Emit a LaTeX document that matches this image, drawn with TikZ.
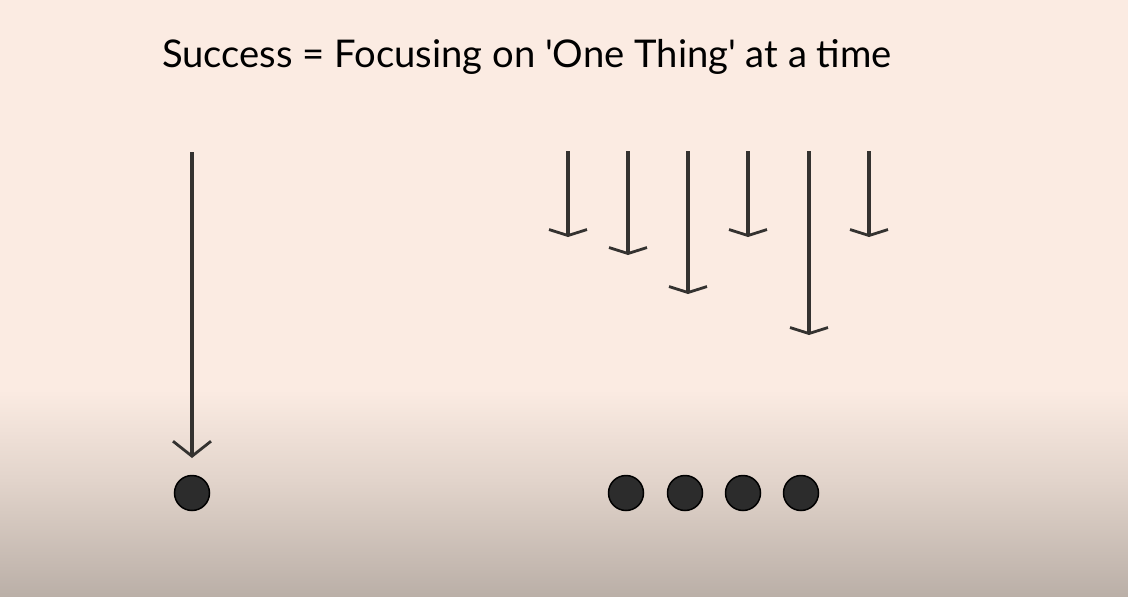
\documentclass[tikz,border=0pt]{standalone}
\usepackage{fontspec}
\setmainfont{Lato}
\usetikzlibrary{arrows.meta}
\definecolor{bgtop}{RGB}{251,235,226}
\definecolor{bgmid}{RGB}{226,212,203}
\definecolor{bgbot}{RGB}{186,175,167}
\definecolor{ink}{RGB}{52,50,48}
\definecolor{dotfill}{RGB}{44,44,44}
\tikzset{
  shortarrow/.style={draw=ink, line width=3.4pt, -{Straight Barb[length=6pt, width=38pt, line width=2.8pt]}},
  longarrow/.style={draw=ink, line width=3.2pt, -{Straight Barb[length=15pt, width=38pt, line width=2.8pt]}},
  bigdot/.style={circle, fill=dotfill, draw=black, line width=1.5pt, minimum size=35pt, inner sep=0pt},
  title/.style={font=\fontsize{38.2}{44}\selectfont, text=black, inner sep=0pt}
}
\begin{document}
\begin{tikzpicture}[x=1pt, y=-1pt]
\useasboundingbox (0,0) rectangle (1128,597);
\fill[bgtop] (0,0) rectangle (1128,390);
\shade[top color=bgtop, bottom color=bgmid] (0,390) rectangle (1128,480);
\shade[top color=bgmid, bottom color=bgbot] (0,480) rectangle (1128,597);
\node[title] (t) at (527,57) {Success = Focusing on \textquotesingle One Thing\textquotesingle{} at a time};
% left side
\coordinate (ls) at (192,152);
\coordinate (le) at (192,458);
\node[bigdot] (ld) at (192,493) {};
\draw[longarrow] (ls) -- (le);
% right arrows
\coordinate (s1) at (568,151); \coordinate (e1) at (568,237);
\coordinate (s2) at (628,151); \coordinate (e2) at (628,255);
\coordinate (s3) at (688,151); \coordinate (e3) at (688,294);
\coordinate (s4) at (748,151); \coordinate (e4) at (748,237);
\coordinate (s5) at (809,151); \coordinate (e5) at (809,335);
\coordinate (s6) at (869,151); \coordinate (e6) at (869,237);
\foreach \i in {1,...,6} { \draw[shortarrow] (s\i) -- (e\i); }
% right dots
\node[bigdot] (d1) at (626,493) {};
\node[bigdot] (d2) at (685,493) {};
\node[bigdot] (d3) at (743,493) {};
\node[bigdot] (d4) at (801,493) {};
\end{tikzpicture}
\end{document}
